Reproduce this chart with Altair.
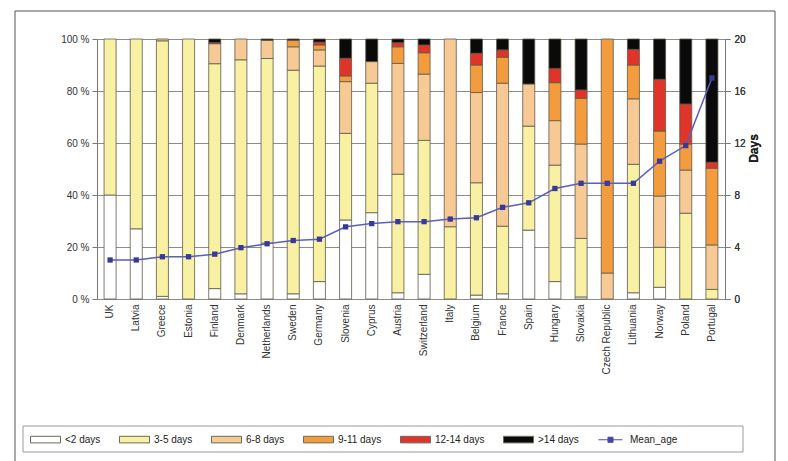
import altair as alt
import pandas as pd

# Countries, ordered by mean age of the samples
countries = ["UK", "Latvia", "Greece", "Estonia", "Finland", "Denmark", "Netherlands",
             "Sweden", "Germany", "Slovenia", "Cyprus", "Austria", "Switzerland", "Italy",
             "Belgium", "France", "Spain", "Hungary", "Slovakia", "Czech Republic",
             "Lithuania", "Norway", "Poland", "Portugal"]

# Share of samples (%) in each age class
lt2    = [40, 27, 1, 0, 4, 2, 21.5, 2, 6.7, 30.4, 33.2, 2.4, 9.5, 0, 1.5, 2, 26.5, 6.7, 0.8, 0, 2.4, 4.5, 0, 0]
d3_5   = [60, 73, 98.3, 100, 86.5, 90, 71, 86, 82.9, 33.3, 49.8, 45.6, 51.5, 27.8, 43.2, 26, 40, 44.8, 22.5, 0, 49.4, 15.4, 33, 3.7]
d6_8   = [0, 0, 0.7, 0, 7.7, 8, 7, 9, 6.2, 19.9, 8.3, 42.6, 25.5, 72.2, 34.7, 55, 16.2, 17.1, 36.3, 10, 25.2, 19.7, 16.6, 17.1]
d9_11  = [0, 0, 0, 0, 0, 0, 0, 2.5, 1.9, 2.2, 0, 6.4, 8.2, 0, 10.6, 10, 0, 14.6, 17.6, 90, 13, 25, 10, 29.5]
d12_14 = [0, 0, 0, 0, 0.4, 0, 0, 0, 1.1, 6.8, 0, 1.6, 3.0, 0, 4.5, 2.8, 0, 5.5, 3.2, 0, 6, 19.9, 15.4, 2.3]
gt14   = [0, 0, 0, 0, 1.4, 0, 0.5, 0.5, 1.2, 7.4, 8.7, 1.4, 2.3, 0, 5.5, 4.2, 17.3, 11.3, 19.6, 0, 4, 15.5, 25, 47.4]

# Mean age in days
mean_age = [3.0, 3.0, 3.25, 3.25, 3.45, 3.95, 4.25, 4.5, 4.6, 5.55, 5.8, 5.95, 5.95, 6.15,
            6.25, 7.05, 7.4, 8.5, 8.9, 8.9, 8.9, 10.6, 11.8, 17.0]

series_names = ["<2 days", "3-5 days", "6-8 days", "9-11 days", "12-14 days", ">14 days"]
series_values = [lt2, d3_5, d6_8, d9_11, d12_14, gt14]
legend_names = series_names + ["Mean_age"]
fill_colors = ["#ffffff", "#f8f1a4", "#f6c995", "#f29c3e", "#e0342b", "#0a0a0a", "#3d3f9e"]

rows = []
for k, (name, vals) in enumerate(zip(series_names, series_values)):
    for c, v in zip(countries, vals):
        rows.append({"country": c, "series": name, "k": k, "pct": v})
bars_df = pd.DataFrame(rows)
age_df = pd.DataFrame({"country": countries, "mean_age": mean_age})
key_df = pd.DataFrame({"series": legend_names})
deco_df = pd.DataFrame({"k": [0]})

FONT = "Liberation Sans"

x_enc = alt.X(
    "country:N", sort=countries,
    scale=alt.Scale(paddingInner=0.54, paddingOuter=0.27),
    axis=alt.Axis(title=None, labelAngle=-90, ticks=False, domain=False,
                  labelFontSize=10, labelPadding=5, labelColor="#333"),
)

# legend glyphs: a wide box for the age classes, a line with a marker for the mean
bar_path = "M-1,-0.22H1V0.22H-1Z"
line_path = "M-0.8,0H0.8M-0.17,-0.17H0.17V0.17H-0.17Z"
shape_range = [bar_path] * 6 + [line_path]
stroke_range = ["#6b6b5a"] * 6 + ["#4b4fae"]

fill_scale = alt.Scale(domain=legend_names, range=fill_colors)

legend = alt.Legend(
    title=None, orient="none", legendX=-67, legendY=385, direction="horizontal",
    columns=7, padding=0, symbolSize=900, symbolStrokeWidth=1,
    labelFontSize=10, labelColor="#222", labelOffset=4, columnPadding=16,
)

bars = alt.Chart(bars_df).transform_filter("datum.pct > 0").mark_bar(
    stroke="#5e5b4a", strokeWidth=0.8
).encode(
    x=x_enc,
    y=alt.Y("pct:Q", stack="zero", scale=alt.Scale(domain=[0, 100], nice=False),
            axis=alt.Axis(title=None, values=[0, 20, 40, 60, 80, 100],
                          labelExpr="datum.value + ' %'", grid=True, gridColor="#8c8c8c",
                          gridWidth=1, tickSize=5, tickColor="#777", domainColor="#777",
                          labelFontSize=10, labelColor="#333", labelPadding=3)),
    fill=alt.Fill("series:N", scale=fill_scale, legend=legend),
    order=alt.Order("k:Q", sort="ascending"),
)

# legend key entries, placed outside the view
key = alt.Chart(key_df).mark_point(filled=True, size=900, strokeWidth=1).encode(
    x=alt.value(-2000), y=alt.value(-2000),
    fill=alt.Fill("series:N", scale=fill_scale, legend=legend),
    shape=alt.Shape("series:N", scale=alt.Scale(domain=legend_names, range=shape_range), legend=legend),
    stroke=alt.Stroke("series:N", scale=alt.Scale(domain=legend_names, range=stroke_range), legend=legend),
)

age_y = alt.Y("mean_age:Q", scale=alt.Scale(domain=[0, 20], nice=False),
              axis=alt.Axis(orient="right", values=[0, 4, 8, 12, 16, 20], grid=False,
                            tickSize=5, tickColor="#777", domainColor="#777",
                            labelFontSize=10, labelColor="#333", labelPadding=4,
                            title="Days", titleAngle=270, titleFontSize=12,
                            titleFontWeight="bold", titleColor="#222", titleX=28, titleY=109,
                            titleAlign="center", titleBaseline="middle"))

age_line = alt.Chart(age_df).mark_line(color="#5a5ebf", strokeWidth=1.5).encode(x=x_enc, y=age_y)
age_pts = alt.Chart(age_df).mark_point(shape="square", filled=True, size=28,
                                       color="#383a98", opacity=1).encode(x=x_enc, y=age_y)

frame = alt.Chart(deco_df).mark_rect(fillOpacity=0, stroke="#555", strokeWidth=1).encode(
    x=alt.value(-82), x2=alt.value(678), y=alt.value(-28), y2=alt.value(440))
legend_box = alt.Chart(deco_df).mark_rect(fill="#ffffff", stroke="#9a9a9a", strokeWidth=1).encode(
    x=alt.value(-74), x2=alt.value(646), y=alt.value(387), y2=alt.value(413))

chart = alt.layer(frame, legend_box, bars, age_line, age_pts, key).resolve_scale(
    y="independent"
).properties(
    width=628, height=260,
    padding={"left": 97, "top": 39, "right": 63, "bottom": 162},
    autosize=alt.AutoSizeParams(type="none"),
).configure_view(strokeWidth=0).configure(font=FONT)

chart.save("out.html", embed_options={"renderer": "svg", "actions": False})
